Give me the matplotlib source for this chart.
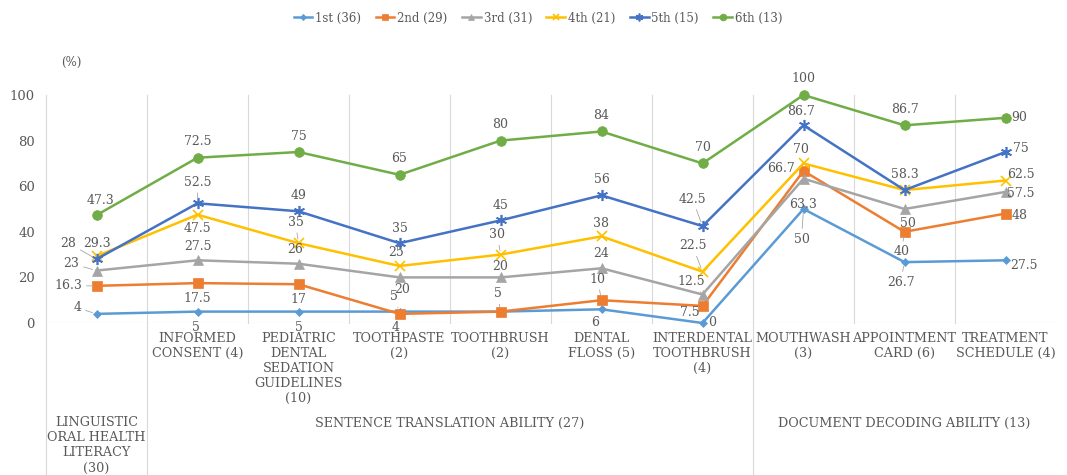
import numpy as np
import matplotlib.pyplot as plt

# categories (level 1) and groups (level 2)
categories = ["", "INFORMED\nCONSENT (4)", "PEDIATRIC\nDENTAL\nSEDATION\nGUIDELINES\n(10)",
              "TOOTHPASTE\n(2)", "TOOTHBRUSH\n(2)", "DENTAL\nFLOSS (5)",
              "INTERDENTAL\nTOOTHBRUSH\n(4)", "MOUTHWASH\n(3)", "APPOINTMENT\nCARD (6)",
              "TREATMENT\nSCHEDULE (4)"]
groups = ["LINGUISTIC\nORAL HEALTH\nLITERACY\n(30)", "SENTENCE TRANSLATION ABILITY (27)",
          "DOCUMENT DECODING ABILITY (13)"]
group_span = [(0, 0), (1, 6), (7, 9)]

series_names = ["1st (36)", "2nd (29)", "3rd (31)", "4th (21)", "5th (15)", "6th (13)"]
grade1 = [4, 5, 5, 5, 5, 6, 0, 50, 26.7, 27.5]
grade2 = [16.3, 17.5, 17, 4, 5, 10, 7.5, 66.7, 40, 48]
grade3 = [23, 27.5, 26, 20, 20, 24, 12.5, 63.3, 50, 57.5]
grade4 = [29.3, 47.5, 35, 25, 30, 38, 22.5, 70, 58.3, 62.5]
grade5 = [28, 52.5, 49, 35, 45, 56, 42.5, 86.7, 58.3, 75]
grade6 = [47.3, 72.5, 75, 65, 80, 84, 70, 100, 86.7, 90]
all_series = [grade1, grade2, grade3, grade4, grade5, grade6]

colors = ["#5B9BD5", "#ED7D31", "#A5A5A5", "#FFC000", "#4472C4", "#70AD47"]
markers = ["D", "s", "^", "x", (6, 2, 0), "o"]
msizes = [4.5, 7, 7, 7, 8, 7]

# label offsets in pixels (dx, dy screen-down, leader line); None = no label
offs = [
    [(-19, -6, 1), (-2, 16, 0), (0, 16, 0), (-6, -15, 1), None, (-6, 13, 0),
     (10, 0, 0), (-2, 30, 1), (-4, 20, 1), (18, 5, 0)],
    [(-28, 0, 1), (0, 15, 0), (0, 15, 0), (-4, 14, 0), (-3, -18, 1), (-4, -21, 1),
     (-13, 7, 0), (-22, -2, 0), (-3, 20, 1), (14, 2, 0)],
    [(-25, -7, 1), (0, -14, 0), (-3, -14, 0), (3, 12, 0), (0, -11, 0), (0, -15, 0),
     (-11, -13, 1), (0, 26, 0), (3, 14, 0), (15, 2, 0)],
    [(0, -13, 1), (0, 14, 0), (-3, -21, 1), (-3, -13, 0), (-3, -20, 1), (0, -13, 0),
     (-10, -26, 1), (-3, -14, 0), None, (15, -6, 0)],
    [(-28, -16, 1), (0, -21, 1), (0, -16, 0), (0, -15, 0), (0, -15, 0), (0, -16, 0),
     (-10, -27, 1), (-3, -14, 0), (0, -16, 0), (15, -4, 0)],
    [(4, -15, 0), (0, -16, 0), (0, -16, 0), (0, -16, 0), (0, -16, 0), (0, -16, 0),
     (0, -16, 0), (0, -17, 0), (0, -16, 0), (14, 0, 0)],
]

FONT = "DejaVu Serif"
TXT = "#595959"
GRID = "#D9D9D9"

fig = plt.figure(figsize=(10.67, 4.75), dpi=100)
ax = fig.add_axes([46 / 1067, 1 - 323 / 475, 1010 / 1067, 228 / 475])
x = np.arange(len(categories))

for vals, name, c, m, ms, off in zip(all_series, series_names, colors, markers, msizes, offs):
    thin = m == "x" or isinstance(m, tuple)
    ax.plot(x, vals, color=c, lw=1.8, marker=m, ms=ms, mew=1.2 if thin else 0.5,
            mec=c, mfc=c, label=name, clip_on=False, zorder=3)
    for xi, v, o in zip(x, vals, off):
        if o is None:
            continue
        dx, dy, lead = o
        ap = None
        if lead:
            ap = dict(arrowstyle="-", color="#A6A6A6", lw=0.6, shrinkA=1, shrinkB=3)
        ax.annotate("{:g}".format(v), (xi, v), xytext=(dx, -dy), textcoords="offset pixels",
                    ha="center", va="center", fontsize=9, color=TXT, family=FONT,
                    arrowprops=ap, zorder=4)

ax.set_xlim(-0.5, 9.5)
ax.set_ylim(0, 100)
ax.set_yticks(range(0, 101, 20))
ax.set_xticks([])
ax.tick_params(axis="y", length=0, pad=8, labelsize=9.5, labelcolor=TXT)
for t in ax.get_yticklabels():
    t.set_family(FONT)
for s in ax.spines.values():
    s.set_visible(False)

# vertical category lines
bot = -(1 - 323 / 475) / (228 / 475)
trans = ax.get_xaxis_transform()
full = {0, 1, 7}
for k in range(10):
    y0 = bot if k in full else 0
    ax.plot([k - 0.5, k - 0.5], [y0, 1], color=GRID, lw=0.8, transform=trans,
            clip_on=False, zorder=1)
ax.axhline(0, color=GRID, lw=0.8, zorder=1)

# category labels
for xi, lab in zip(x, categories):
    ax.text(xi, -0.04, lab, transform=trans, ha="center", va="top", fontsize=9.2,
            color=TXT, family=FONT, linespacing=1.2)
for (a, b), g in zip(group_span, groups):
    ax.text((a + b) / 2, -0.41, g, transform=trans, ha="center", va="top", fontsize=9.2,
            color=TXT, family=FONT, linespacing=1.2)

fig.text(71 / 1067, 1 - 62 / 475, "(%)", ha="center", va="center", fontsize=8.5,
         color=TXT, family=FONT)

fig.legend(loc="center", bbox_to_anchor=(538 / 1067, 1 - 18 / 475), ncol=6, frameon=False,
           prop={"family": FONT, "size": 8.5}, handlelength=1.6, columnspacing=1.2,
           handletextpad=0.25, markerscale=0.7, labelcolor=TXT)

fig.savefig("out.png", dpi=100)
